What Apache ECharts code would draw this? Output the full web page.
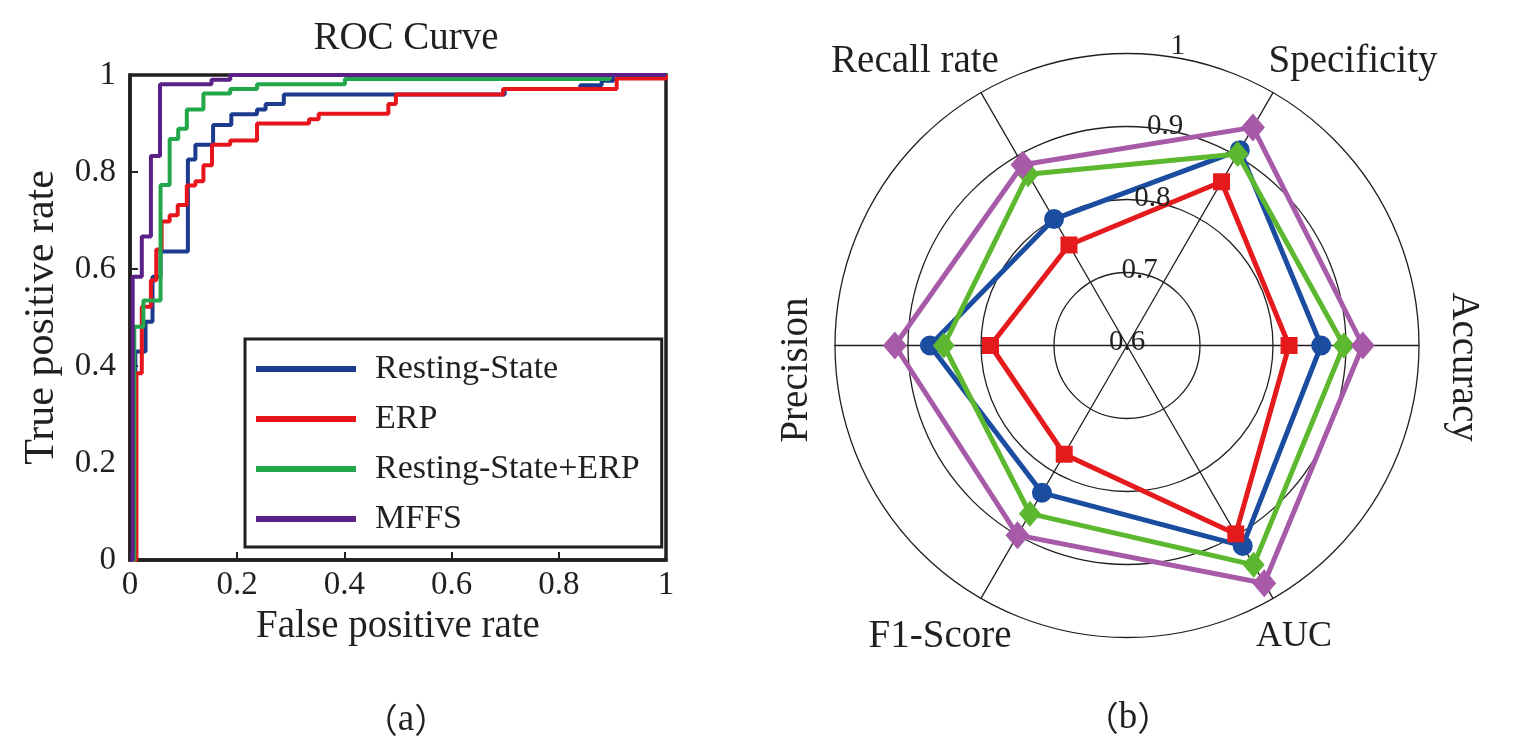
<!DOCTYPE html>
<html>
<head>
<meta charset="utf-8">
<style>
  html, body { margin: 0; padding: 0; background: #ffffff; }
  #chart { width: 1536px; height: 756px; }
</style>
<script src="https://cdn.jsdelivr.net/npm/echarts@6/dist/echarts.min.js"></script>
</head>
<body>
<div id="chart"></div>
<script>
// ---------- ROC data (FPR, TPR) : each point is where the curve rises ----------
const rocNames = ['Resting-State', 'ERP', 'Resting-State+ERP', 'MFFS'];
const rocRestingState = [[0,0],[0.010,0.430],[0.029,0.491],[0.042,0.584],[0.057,0.636],[0.108,0.826],[0.122,0.856],[0.155,0.897],[0.189,0.919],[0.237,0.929],[0.253,0.940],[0.287,0.960],[0.699,0.971],[0.840,0.979],[0.880,0.988],[0.902,1.0],[1,1]];
const rocERP = [[0,0],[0.012,0.385],[0.022,0.522],[0.039,0.577],[0.049,0.640],[0.059,0.698],[0.074,0.711],[0.089,0.732],[0.106,0.772],[0.122,0.781],[0.137,0.814],[0.153,0.856],[0.187,0.865],[0.237,0.900],[0.334,0.909],[0.352,0.920],[0.482,0.940],[0.496,0.960],[0.696,0.971],[0.908,0.993],[1,1]];
const rocCombined = [[0,0],[0.008,0.481],[0.025,0.535],[0.057,0.773],[0.074,0.868],[0.090,0.889],[0.106,0.929],[0.137,0.962],[0.187,0.971],[0.237,0.981],[0.401,0.992],[0.895,1.0],[1,1]];
const rocMFFS = [[0,0],[0.005,0.584],[0.022,0.667],[0.039,0.833],[0.056,0.981],[0.152,0.990],[0.187,1.0],[1,1]];
const rocTicks = [0, 0.2, 0.4, 0.6, 0.8, 1];

// ---------- Radar data ----------
const radarIndicators = ['Specificity', 'Recall rate', 'Precision', 'F1-Score', 'AUC', 'Accuracy'];
const radarRestingState = [0.909, 0.800, 0.870, 0.833, 0.917, 0.866];
const radarERP          = [0.859, 0.759, 0.787, 0.772, 0.898, 0.822];
const radarCombined     = [0.903, 0.871, 0.851, 0.866, 0.947, 0.897];
const radarMFFS         = [0.945, 0.886, 0.918, 0.900, 0.976, 0.923];
const radarTicks = [0.6, 0.7, 0.8, 0.9, 1];

const FONT = '"Liberation Serif", "Times New Roman", serif';
const CJK = '"Noto Sans CJK SC", sans-serif';
const INK = '#231f20';
const rocColors = ['#1c3b8f', '#e8141c', '#22a84a', '#5c2089'];
const radarColors = ['#1a4da0', '#e41a1c', '#5cb82e', '#a65aa8'];

const chart = echarts.init(document.getElementById('chart'));

const rocSeries = [rocRestingState, rocERP, rocCombined, rocMFFS].map((d, i) => ({
  type: 'line', name: rocNames[i], data: d, step: 'end', showSymbol: false, symbol: 'none',
  xAxisIndex: 0, yAxisIndex: 0,
  lineStyle: { color: rocColors[i], width: 4 }, itemStyle: { color: rocColors[i] },
  z: 3 + i
}));

const radarSeries = [
  { d: radarRestingState, sym: 'circle', size: 20, c: radarColors[0], name: 'rs' },
  { d: radarERP, sym: 'rect', size: 17, c: radarColors[1], name: 'erp' },
  { d: radarCombined, sym: 'diamond', size: [22, 26], c: radarColors[2], name: 'comb' },
  { d: radarMFFS, sym: 'diamond', size: [24, 28], c: radarColors[3], name: 'mffs' }
].map((s, i) => ({
  type: 'radar', radarIndex: 0, name: s.name,
  symbol: s.sym, symbolSize: s.size,
  lineStyle: { color: s.c, width: 5 }, itemStyle: { color: s.c },
  data: [{ value: s.d }], z: 3 + i
}));

function txt(text, x, y, size, rot) {
  return { type: 'text', x: x, y: y, rotation: rot || 0, z: 10,
    style: { text: text, font: size + 'px ' + FONT, fill: INK, align: 'center', verticalAlign: 'middle' } };
}
function panelLabel(letter, x, y) {
  return { type: 'text', x: x, y: y, z: 10,
    style: {
      text: '{p|（}{s|' + letter + '}{p|）}', align: 'center', verticalAlign: 'middle', fill: INK,
      rich: {
        p: { fontFamily: CJK, fontSize: 34, fontWeight: 400, fill: INK },
        s: { fontFamily: FONT, fontSize: 37, fill: INK }
      }
    } };
}

const option = {
  backgroundColor: '#ffffff',
  animation: false,
  grid: { left: 130, top: 75, width: 536, height: 485, show: true, borderColor: INK, borderWidth: 3.5, backgroundColor: 'transparent' },
  xAxis: {
    type: 'value', min: 0, max: 1, interval: 0.2,
    name: 'False positive rate', nameLocation: 'middle', nameGap: 28,
    nameTextStyle: { fontFamily: FONT, fontSize: 39, color: INK },
    axisLine: { lineStyle: { color: INK, width: 3.5 } },
    axisTick: { inside: true, length: 8, lineStyle: { color: INK, width: 2 } },
    axisLabel: { fontFamily: FONT, fontSize: 33, color: INK, margin: 9 },
    splitLine: { show: false }
  },
  yAxis: {
    type: 'value', min: 0, max: 1, interval: 0.2,
    name: 'True positive rate', nameLocation: 'middle', nameGap: 67,
    nameTextStyle: { fontFamily: FONT, fontSize: 42, color: INK },
    axisLine: { lineStyle: { color: INK, width: 3.5 } },
    axisTick: { inside: true, length: 8, lineStyle: { color: INK, width: 2 } },
    axisLabel: { fontFamily: FONT, fontSize: 33, color: INK, margin: 14 },
    splitLine: { show: false }
  },
  legend: {
    data: rocNames, orient: 'vertical', left: 245, top: 339,
    icon: 'rect', itemWidth: 100, itemHeight: 6, itemGap: 14,
    padding: [12, 22, 10, 11],
    borderColor: INK, borderWidth: 3, backgroundColor: '#ffffff',
    textStyle: { fontFamily: FONT, fontSize: 34, color: INK, lineHeight: 36, padding: [0, 0, 0, 14] }
  },
  radar: {
    center: [1127, 345.5], radius: 292, startAngle: 60, shape: 'circle', splitNumber: 4,
    indicator: radarIndicators.map(n => ({ name: n, min: 0.6, max: 1 })),
    axisName: { show: false },
    splitLine: { lineStyle: { color: INK, width: 1.3 } },
    splitArea: { show: false },
    axisLine: { lineStyle: { color: INK, width: 1.3 } },
    axisTick: { show: false }, axisLabel: { show: false }
  },
  polar: { center: [1127, 345.5], radius: 292 },
  angleAxis: { type: 'value', min: 0, max: 360, startAngle: 80, show: false },
  radiusAxis: {
    type: 'value', min: radarTicks[0], max: radarTicks[radarTicks.length - 1], interval: 0.1,
    axisLine: { show: false }, axisTick: { show: false }, splitLine: { show: false },
    axisLabel: {
      fontFamily: FONT, fontSize: 29, color: INK, margin: 0, align: 'center', verticalAlign: 'middle', padding: [0, 0, 6, 0],
      formatter: function (v) { return v >= 0.999 ? '{t|1}' : String(v); },
      rich: { t: { fontFamily: FONT, fontSize: 29, color: INK, padding: [0, 0, 18, 0] } }
    },
    z: 20
  },
  graphic: [
    txt('ROC Curve', 406, 39, 39),
    panelLabel('a', 406, 720),
    panelLabel('b', 1128, 718),
    txt('Specificity', 1353, 62, 39),
    txt('Recall rate', 915, 62, 39),
    txt('Accuracy', 1463, 367, 39, -Math.PI / 2),
    txt('Precision', 797, 370, 39, Math.PI / 2),
    txt('F1-Score', 940, 637, 39),
    txt('AUC', 1294, 637, 36)
  ],
  series: rocSeries.concat(radarSeries)
};

chart.setOption(option);
</script>
</body>
</html>
